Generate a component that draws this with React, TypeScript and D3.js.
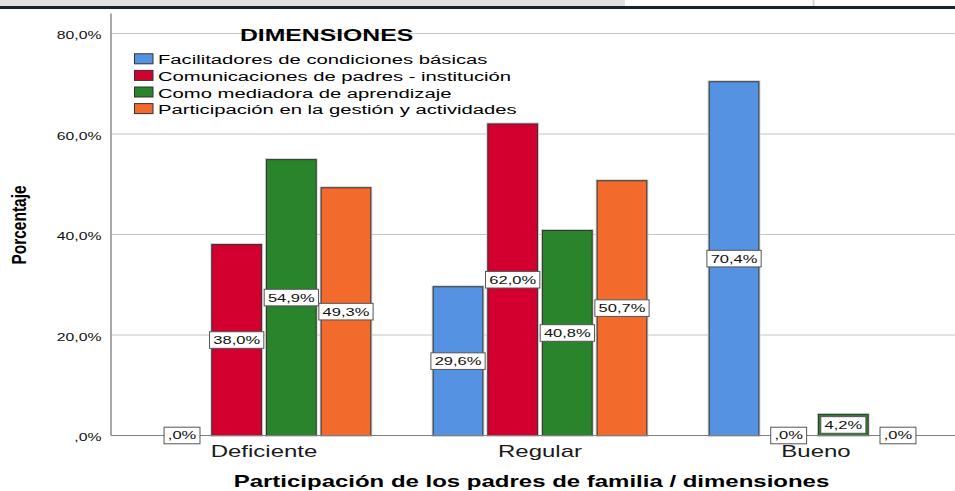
import React, { useRef, useEffect } from 'react';
import * as d3 from 'd3';

// chart values (percent)
const categories = ['Deficiente', 'Regular', 'Bueno'];
const seriesNames = [
  'Facilitadores de condiciones básicas',
  'Comunicaciones de padres - institución',
  'Como mediadora de aprendizaje',
  'Participación en la gestión y actividades',
];
const facilitadores = [0, 29.6, 70.4];
const comunicaciones = [38.0, 62.0, 0];
const mediadora = [54.9, 40.8, 4.2];
const participacion = [49.3, 50.7, 0];
const seriesValues = [facilitadores, comunicaciones, mediadora, participacion];
const seriesColors = ['#5593e2', '#d3002f', '#2a842b', '#f26a2c'];
const yTicks = [0, 20, 40, 60, 80];

const W = 955;
const H = 491;
const SX = 1.5; // the source picture is stretched sideways, so text is too
const FONT = 'Arial, "Liberation Sans", sans-serif';

// SPSS style: 38,0% and ,0%
function fmt(v: number) {
  let s = v.toFixed(1).replace('.', ',');
  if (s.startsWith('0')) s = s.slice(1);
  return s + '%';
}

function App() {
  const svgRef = useRef<SVGSVGElement>(null);

  useEffect(() => {
    const svg = d3.select(svgRef.current);
    svg.selectAll('*').remove();

    const y = d3.scaleLinear().domain([0, 84]).range([435.5, 13.4]);
    const x0 = d3.scaleBand().domain(categories).range([126, 954]);
    const x1 = d3.scaleBand()
      .domain(seriesNames)
      .range([0, x0.bandwidth()])
      .paddingInner(0.09)
      .paddingOuter(0.57);
    const axisX = 111;

    // window chrome strip at the top of the screenshot
    svg.append('rect').attr('x', 0).attr('y', 0).attr('width', 625).attr('height', 6).attr('fill', '#e1e1e1');
    svg.append('line').attr('x1', 813.5).attr('x2', 813.5).attr('y1', 0).attr('y2', 6)
      .attr('stroke', '#d6d6d6').attr('stroke-width', 2);
    svg.append('rect').attr('x', 0).attr('y', 6).attr('width', W).attr('height', 3).attr('fill', '#14252e');

    // gridlines
    svg.append('g')
      .selectAll('line')
      .data(yTicks.filter(t => t > 0))
      .enter().append('line')
      .attr('x1', axisX).attr('x2', W)
      .attr('y1', d => y(d)).attr('y2', d => y(d))
      .attr('stroke', '#c4c4c4').attr('stroke-width', 1);

    // y tick labels
    svg.append('g')
      .selectAll('text')
      .data(yTicks)
      .enter().append('text')
      .attr('transform', d => `translate(101.5,${y(d) + 5.5}) scale(${SX},1)`)
      .attr('text-anchor', 'end')
      .style('font', `10.5px ${FONT}`)
      .attr('fill', '#111')
      .text(d => fmt(d));

    // bars
    const barData = seriesNames.flatMap((s, i) =>
      categories.map((c, j) => ({ s, c, i, v: seriesValues[i][j] })));

    const bars = svg.append('g');
    bars.selectAll('rect.halo')
      .data(barData.filter(d => d.v > 0))
      .enter().append('rect')
      .attr('class', 'halo')
      .attr('x', d => x0(d.c)! + x1(d.s)!)
      .attr('y', d => y(d.v))
      .attr('width', x1.bandwidth())
      .attr('height', d => y(0) - y(d.v))
      .attr('fill', 'none')
      .attr('stroke', '#d0d0d0')
      .attr('stroke-width', 3);
    bars.selectAll('rect.bar')
      .data(barData.filter(d => d.v > 0))
      .enter().append('rect')
      .attr('class', 'bar')
      .attr('x', d => x0(d.c)! + x1(d.s)!)
      .attr('y', d => y(d.v))
      .attr('width', x1.bandwidth())
      .attr('height', d => y(0) - y(d.v))
      .attr('fill', d => seriesColors[d.i])
      .attr('stroke', '#333')
      .attr('stroke-width', 1);

    // axes lines
    svg.append('line').attr('x1', axisX).attr('x2', W).attr('y1', y(0)).attr('y2', y(0))
      .attr('stroke', '#808080').attr('stroke-width', 1.2);
    svg.append('line').attr('x1', axisX).attr('x2', axisX).attr('y1', y(84)).attr('y2', y(0))
      .attr('stroke', '#8c8c8c').attr('stroke-width', 1.5);

    // value labels
    const labels = svg.append('g')
      .selectAll('g')
      .data(barData)
      .enter().append('g')
      .attr('transform', d => `translate(${x0(d.c)! + x1(d.s)! + x1.bandwidth() / 2},${y(d.v / 2)})`);
    const boxes = labels.append('rect')
      .attr('fill', '#fff')
      .attr('stroke', '#555')
      .attr('stroke-width', 1);
    const texts = labels.append('text')
      .attr('transform', `scale(${SX},1)`)
      .attr('text-anchor', 'middle')
      .attr('dy', '0.36em')
      .style('font', `11px ${FONT}`)
      .attr('fill', '#111')
      .text(d => fmt(d.v));
    texts.each(function (_, k) {
      const w = (this as SVGTextElement).getBBox().width;
      const bw = (w + 5) * SX;
      d3.select(boxes.nodes()[k])
        .attr('x', -bw / 2).attr('y', -8.3)
        .attr('width', bw).attr('height', 16.6);
    });

    // category labels
    svg.append('g')
      .selectAll('text')
      .data(categories)
      .enter().append('text')
      .attr('transform', d => `translate(${x0(d)! + x0.bandwidth() / 2},456.7) scale(${SX},1)`)
      .attr('text-anchor', 'middle')
      .style('font', `16px ${FONT}`)
      .attr('fill', '#1a1a1a')
      .text(d => d);

    // axis titles
    svg.append('text')
      .attr('transform', `translate(531.5,487.3) scale(${SX},1)`)
      .attr('text-anchor', 'middle')
      .style('font', `bold 16px ${FONT}`)
      .attr('fill', '#000')
      .text('Participación de los padres de familia / dimensiones');
    svg.append('text')
      .attr('transform', `translate(25.5,225) scale(1.25,1) rotate(-90)`)
      .attr('text-anchor', 'middle')
      .style('font', `bold 15.5px ${FONT}`)
      .attr('fill', '#000')
      .text('Porcentaje');

    // legend
    const legend = svg.append('g');
    legend.append('text')
      .attr('transform', `translate(240,41) scale(${SX},1)`)
      .style('font', `bold 16.5px ${FONT}`)
      .attr('fill', '#000')
      .text('DIMENSIONES');
    const rows = legend.selectAll('g.row')
      .data(seriesNames)
      .enter().append('g')
      .attr('class', 'row')
      .attr('transform', (d, i) => `translate(0,${64.3 + i * 16.6})`);
    rows.append('rect')
      .attr('x', 134.5).attr('y', -10.5)
      .attr('width', 18.5).attr('height', 10)
      .attr('fill', (d, i) => seriesColors[i])
      .attr('stroke', '#333').attr('stroke-width', 1);
    rows.append('text')
      .attr('transform', `translate(158,0) scale(${SX},1)`)
      .style('font', `13.5px ${FONT}`)
      .attr('fill', '#000')
      .text(d => d);
  }, []);

  return (
    <svg
      ref={svgRef}
      width={W}
      height={H}
      style={{ position: 'absolute', left: 0, top: 0, background: '#fff' }}
    ></svg>
  );
}

export default App;
